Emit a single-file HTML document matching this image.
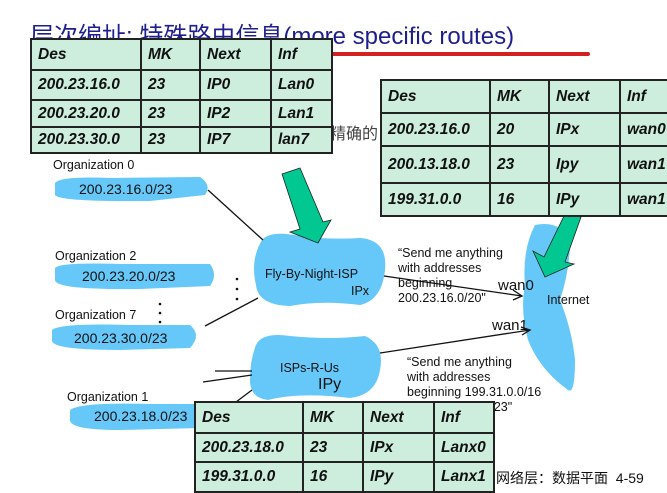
<!DOCTYPE html>
<html><head><meta charset="utf-8"><style>
body{margin:0;width:667px;height:490px;overflow:hidden;background:#fff;position:relative;font-family:"Liberation Sans","Noto Sans CJK SC",sans-serif}
.t{position:absolute;border-collapse:collapse;background:#cdeedd;font-style:italic;font-weight:bold;font-size:15.5px;color:#111}
.t td{border:2px solid #222;padding:0 0 0 6px;white-space:nowrap}
.a{position:absolute;font-size:12.5px;color:#111;white-space:nowrap}
</style></head><body>
<div style="position:absolute;left:30px;top:16px;font-size:24px;color:#1e1e8c;white-space:nowrap">层次编址: 特殊路由信息(more specific routes)</div>
<div style="position:absolute;left:262px;top:52px;width:328px;height:4px;background:#d42020;border-radius:2px"></div>
<div class="a" style="left:330px;top:120px;font-size:16px;color:#444">精确的</div>
<svg style="position:absolute;left:0;top:0" width="667" height="490">
<g fill="#66c8f8">
<path d="M55 183 Q60 176 110 178 L200 177 Q212 185 205 195 L150 201 Q60 202 55 195Z"/>
<path d="M55 268 Q60 262 120 264 L210 264 Q218 275 210 286 L140 289 Q55 290 55 280Z"/>
<path d="M52 330 Q60 323 130 325 L190 325 Q202 335 190 348 L120 350 Q50 350 52 340Z"/>
<path d="M70 410 Q80 402 150 404 L200 404 L200 428 L120 430 Q70 430 70 420Z"/>
<path d="M262 240 Q270 230 300 236 Q330 240 360 238 Q388 240 385 270 Q382 300 360 305 Q320 300 290 306 Q258 305 256 285 Q250 260 262 240Z"/>
<path d="M256 345 Q262 332 290 336 Q330 340 365 336 Q385 345 380 370 Q376 395 350 398 Q300 392 268 400 Q250 398 250 380 Q250 360 256 345Z"/>
<path d="M535 225 Q560 220 570 240 Q570 270 560 300 Q572 330 575 360 Q575 395 568 390 Q540 370 528 340 Q520 310 525 285 Q522 250 535 225Z"/>
</g>
<g stroke="#111" stroke-width="1.3" fill="none">
<line x1="208" y1="190" x2="263" y2="240"/>
<line x1="205" y1="326" x2="258" y2="298"/>
<line x1="384" y1="276" x2="522" y2="296"/>
<path d="M513 290 L522 296 L513 300"/>
<line x1="380" y1="353" x2="530" y2="330"/>
<path d="M521 327 L530 330 L522 335"/>
<line x1="215" y1="371" x2="252" y2="371"/>
<line x1="203" y1="382" x2="252" y2="375"/>
<line x1="236" y1="402" x2="252" y2="390"/>
</g>
<g fill="#00c890" stroke="#222" stroke-width="0.8">
<path d="M282 174 L300 168 L323 222 L331 220 L318 243 L290 232 L300 229Z"/>
<path d="M565 214 L581 217 L565 262 L574 264 L545 277 L533 251 L544 257Z"/>
</g>
<g fill="#111"><circle cx="237" cy="279" r="1.3"/><circle cx="237" cy="289" r="1.3"/><circle cx="237" cy="299" r="1.3"/>
<circle cx="160" cy="304" r="1.3"/><circle cx="160" cy="313" r="1.3"/><circle cx="160" cy="322" r="1.3"/></g>
</svg>
<div class="a" style="left:53px;top:158px">Organization 0</div>
<div class="a" style="left:79px;top:181px;font-size:14px">200.23.16.0/23</div>
<div class="a" style="left:55px;top:249px">Organization 2</div>
<div class="a" style="left:82px;top:268px;font-size:14px">200.23.20.0/23</div>
<div class="a" style="left:55px;top:308px">Organization 7</div>
<div class="a" style="left:74px;top:330px;font-size:14px">200.23.30.0/23</div>
<div class="a" style="left:67px;top:390px">Organization 1</div>
<div class="a" style="left:94px;top:408px;font-size:14px">200.23.18.0/23</div>
<div class="a" style="left:265px;top:267px">Fly-By-Night-ISP</div>
<div class="a" style="left:351px;top:284px">IPx</div>
<div class="a" style="left:280px;top:361px">ISPs-R-Us</div>
<div class="a" style="left:318px;top:376px;font-size:16px">IPy</div>
<div class="a" style="left:398px;top:246px;line-height:15px">“Send me anything<br>with addresses<br>beginning<br>200.23.16.0/20"</div>
<div class="a" style="left:407px;top:355px;line-height:15px">“Send me anything<br>with addresses<br>beginning 199.31.0.0/16<br>&nbsp;&nbsp;&nbsp;&nbsp;&nbsp;&nbsp;&nbsp;&nbsp;&nbsp;&nbsp;&nbsp;&nbsp;&nbsp;&nbsp;&nbsp;&nbsp;&nbsp;&nbsp;&nbsp;&nbsp;&nbsp;&nbsp;&nbsp;&nbsp;/23"</div>
<div class="a" style="left:498px;top:277px;font-size:15px">wan0</div>
<div class="a" style="left:492px;top:317px;font-size:15px">wan1</div>
<div class="a" style="left:547px;top:293px">Internet</div>
<div class="a" style="left:496px;top:468px;font-size:14px">网络层：数据平面&nbsp;&nbsp;4-59</div>
<table class="t" style="left:30px;top:38px;width:303px;height:116px">
<colgroup><col style="width:110px"><col style="width:59px"><col style="width:71px"><col></colgroup>
<tr style="height:31px"><td>Des</td><td>MK</td><td>Next</td><td>Inf</td></tr>
<tr style="height:30px"><td>200.23.16.0</td><td>23</td><td>IP0</td><td>Lan0</td></tr>
<tr style="height:27px"><td>200.23.20.0</td><td>23</td><td>IP2</td><td>Lan1</td></tr>
<tr><td>200.23.30.0</td><td>23</td><td>IP7</td><td>lan7</td></tr>
</table>
<table class="t" style="left:380px;top:79px;width:295px;height:138px">
<colgroup><col style="width:109px"><col style="width:59px"><col style="width:71px"><col></colgroup>
<tr style="height:33px"><td>Des</td><td>MK</td><td>Next</td><td>Inf</td></tr>
<tr style="height:33px"><td>200.23.16.0</td><td>20</td><td>IPx</td><td>wan0</td></tr>
<tr style="height:37px"><td>200.13.18.0</td><td>23</td><td>Ipy</td><td>wan1</td></tr>
<tr><td>199.31.0.0</td><td>16</td><td>IPy</td><td>wan1</td></tr>
</table>
<table class="t" style="left:194px;top:401px;width:301px;height:92px">
<colgroup><col style="width:108px"><col style="width:60px"><col style="width:71px"><col></colgroup>
<tr style="height:31px"><td>Des</td><td>MK</td><td>Next</td><td>Inf</td></tr>
<tr style="height:29px"><td>200.23.18.0</td><td>23</td><td>IPx</td><td>Lanx0</td></tr>
<tr><td>199.31.0.0</td><td>16</td><td>IPy</td><td>Lanx1</td></tr>
</table>
</body></html>
